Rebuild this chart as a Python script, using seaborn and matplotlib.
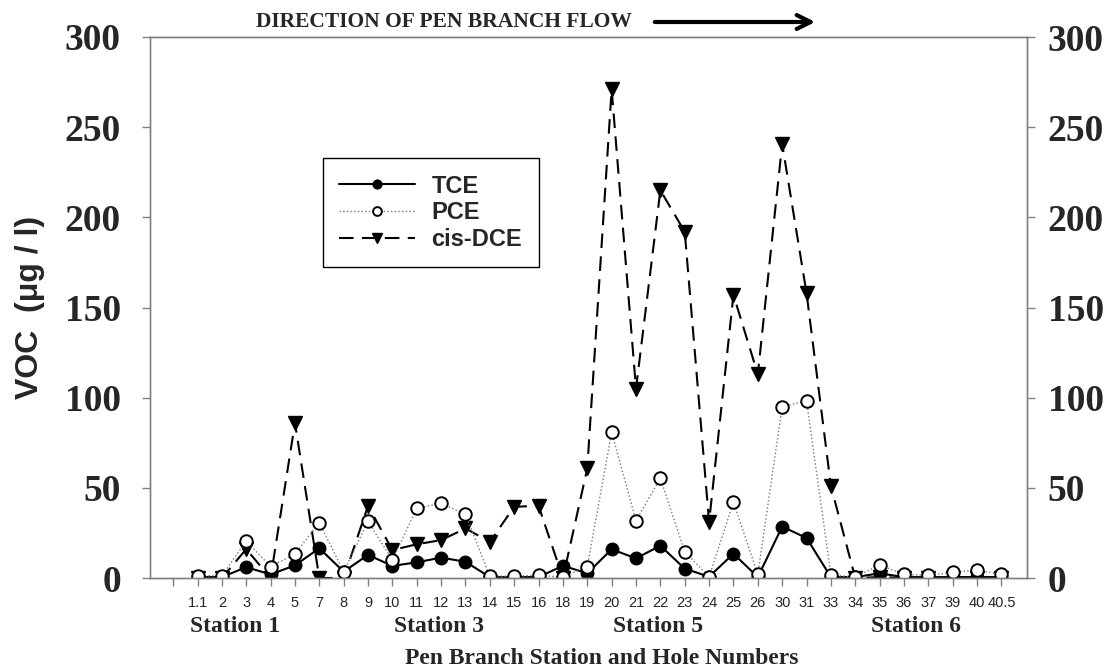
import numpy as np
import pandas as pd
import matplotlib
matplotlib.use("Agg")
import matplotlib.pyplot as plt
import seaborn as sns

# hole labels along the creek (first slot has no sample)
holes = ["", "1.1", "2", "3", "4", "5", "7", "8", "9", "10", "11", "12", "13",
         "14", "15", "16", "18", "19", "20", "21", "22", "23", "24", "25", "26",
         "30", "31", "33", "34", "35", "36", "37", "39", "40", "40.5"]

# VOC concentrations (ug/l)
tce = [np.nan, 0.5, 0.5, 6, 2, 7, 16.5, 3.5, 12.8, 6.7, 8.7, 11.3, 9,
       0.5, 0.5, 0.5, 6.8, 2.6, 15.9, 10.9, 17.9, 5.2, 0.7, 13.5, 0.5,
       28.5, 22.2, 0.5, 0.5, 2.6, 0.5, 0.5, 0.5, 0.5, 0.5]
pce = [np.nan, 1.3, 1.3, 20.5, 6.3, 13.3, 30.7, 3.5, 31.4, 10, 38.6, 41.4, 35.3,
       1, 1, 1.5, 0.5, 6.3, 80.8, 31.8, 55.3, 14.6, 0.7, 42.1, 2,
       95, 98.3, 1.7, 0.5, 7.2, 2, 1.5, 3.1, 4.4, 2]
dce = [np.nan, 0, 0, 16, 0, 86, 0, 0, 40, 15.5, 18.7, 21, 27.5,
       20, 39.5, 40, 0, 60.8, 271, 105, 215, 192, 31, 157, 113,
       240.7, 158, 51, 0, 0.5, 0, 0, 0, 0, 0]

stations = ["Station 1", "Station 3", "Station 5", "Station 6"]
station_x = [235, 439, 658, 916]  # pixel centres under the axis

sns.set_style("ticks")
plt.rcParams["font.family"] = ["Liberation Sans", "DejaVu Sans"]

W, H = 1118, 672
fig = plt.figure(figsize=(W / 100, H / 100), dpi=100)
ax = fig.add_axes([150 / W, 94 / H, 877 / W, 541 / H])

df = pd.DataFrame({"pos": np.arange(len(holes)), "TCE": tce, "PCE": pce, "cis-DCE": dce}).dropna()

sns.lineplot(data=df, x="pos", y="cis-DCE", ax=ax, color="black", lw=1.5,
             linestyle=(0, (7, 4)), marker="v", markersize=10,
             markeredgecolor="black", markeredgewidth=1, label="cis-DCE")
sns.lineplot(data=df, x="pos", y="TCE", ax=ax, color="black", lw=1.5,
             marker="o", markersize=9, markeredgecolor="black",
             markeredgewidth=1, label="TCE")
sns.lineplot(data=df, x="pos", y="PCE", ax=ax, color="#777777", lw=1,
             linestyle=":", marker="o", markersize=9, markerfacecolor="white",
             markeredgecolor="black", markeredgewidth=1.4, label="PCE")

ax.set_xlim(-0.95, 35.05)
ax.set_ylim(0, 300)
ax.set_xticks(np.arange(len(holes)))
ax.set_xticklabels(holes, fontsize=10.5)
ax.set_xlabel("")
ax.set_ylabel("")

serif_bold = dict(family="Liberation Serif", weight="bold")
yt = list(range(0, 301, 50))
ax.set_yticks(yt)
ax.set_yticklabels([str(v) for v in yt], fontsize=27, **serif_bold)

ax2 = ax.twinx()
ax2.set_ylim(0, 300)
ax2.set_yticks(yt)
ax2.set_yticklabels([str(v) for v in yt], fontsize=27, **serif_bold)

for a in (ax, ax2):
    for sp in a.spines.values():
        sp.set_visible(True)
        sp.set_color("#808080")
        sp.set_linewidth(1)
ax.tick_params(axis="x", direction="out", length=6, width=1, color="#808080", pad=7)
ax.tick_params(axis="y", direction="out", length=6, width=1, color="#808080", pad=15)
ax2.tick_params(axis="y", direction="out", length=6, width=1, color="#808080", pad=9)

# legend in TCE, PCE, cis-DCE order
handles, labels = ax.get_legend_handles_labels()
order = [labels.index(k) for k in ["TCE", "PCE", "cis-DCE"]]
leg = ax.legend([handles[i] for i in order], [labels[i] for i in order],
                loc="upper left", bbox_to_anchor=(0.197, 0.776), borderaxespad=0,
                frameon=True, fancybox=False, edgecolor="black", framealpha=1,
                prop=dict(family="Liberation Sans", weight="bold", size=17),
                markerscale=0.7, handlelength=3.2, borderpad=0.7,
                labelspacing=0.15, handletextpad=0.7)
leg.get_frame().set_linewidth(1)

fig.text(30 / W, 1 - 307 / H, "VOC  (\u03bcg / l)", rotation=90, ha="center",
         va="center", fontsize=23, weight="bold", family="Liberation Sans")

for name, px in zip(stations, station_x):
    fig.text(px / W, 1 - 627 / H, name, ha="center", va="center", fontsize=17, **serif_bold)
fig.text(602 / W, 1 - 658 / H, "Pen Branch Station and Hole Numbers", ha="center",
         va="center", fontsize=17, **serif_bold)

fig.text(256 / W, 1 - 22 / H, "DIRECTION OF PEN BRANCH FLOW", ha="left", va="center",
         fontsize=15.5, **serif_bold)
ax.annotate("", xy=(818 / W, 1 - 22 / H), xytext=(652 / W, 1 - 22 / H),
            xycoords="figure fraction", textcoords="figure fraction",
            annotation_clip=False,
            arrowprops=dict(arrowstyle="->", lw=3, color="black", mutation_scale=25))

fig.savefig("out.png", dpi=100)
